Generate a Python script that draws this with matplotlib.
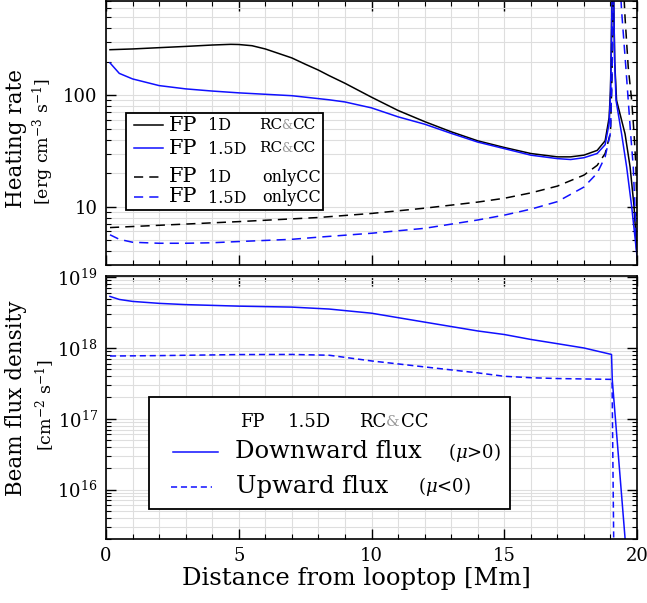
import numpy as np
import matplotlib
matplotlib.use('Agg')
import matplotlib.pyplot as plt
from matplotlib.lines import Line2D
from matplotlib.patches import Rectangle
from matplotlib.ticker import LogLocator, MultipleLocator, NullFormatter

plt.rcParams['font.family'] = ['DejaVu Serif']
plt.rcParams['mathtext.fontset'] = 'dejavuserif'

# ---- top panel: heating rate [erg cm^-3 s^-1] vs distance [Mm]
x_1d_rc = [0.15, 1, 2, 3, 4, 4.7, 5.0, 5.5, 6.0, 6.5, 7.0, 7.5, 8.0, 8.4, 9, 10, 11, 12, 13, 14, 15, 16, 17, 17.5,
           18, 18.5, 18.8, 18.95, 19.0, 19.03, 19.06, 19.09, 19.12, 19.16, 19.23, 19.55, 19.74, 19.89, 20.01]
y_1d_rc = [256, 260, 267, 274, 282, 286, 285, 278, 260, 237, 216, 190, 168, 150, 128, 96, 73, 58, 47, 39, 34, 30, 28, 28,
           29, 32, 39, 63, 110, 250, 800, 3000, 800, 200, 90, 45, 22.7, 10, 3.3]

x_15d_rc = [0.15, 0.5, 1, 2, 3, 4, 5, 7, 8.4, 9, 10, 11, 12, 13, 14, 16, 17, 17.5,
            18, 18.5, 18.8, 18.95, 19.0, 19.03, 19.06, 19.09, 19.12, 19.16, 19.21, 19.42, 19.61, 19.80, 20.0]
y_15d_rc = [195, 157, 140, 122, 114, 109, 105, 99, 91, 87, 77, 64, 55, 45.5, 38, 29, 27, 26.5,
            27.5, 30, 36, 56, 100, 230, 750, 3000, 800, 200, 90, 45, 22.7, 10, 3.6]

x_1d_cc = [0.15, 5, 8, 10, 12, 14, 15, 16, 17, 18, 18.5, 18.8, 19.0, 19.06, 19.12,
           19.3, 19.45, 19.55, 19.67, 19.80, 19.89, 19.96, 20.0]
y_1d_cc = [6.5, 7.35, 8.0, 8.7, 9.7, 11, 11.9, 13.3, 15.3, 19.2, 23.5, 30, 46, 150, 1500,
           4000, 1500, 497, 178, 90, 45, 22.7, 8.2]

x_15d_cc = [0.15, 0.5, 1, 2, 3, 4, 5, 7, 8, 10, 12, 14, 15, 16, 17, 18, 18.5, 18.8, 19.0, 19.06, 19.12,
            19.25, 19.42, 19.58, 19.67, 19.76, 19.86, 19.92, 20.0]
y_15d_cc = [5.6, 5.1, 4.8, 4.7, 4.7, 4.75, 4.87, 5.1, 5.33, 5.78, 6.4, 7.6, 8.4, 9.5, 11.1, 15, 20, 28, 46, 150, 1500,
            3000, 570, 178, 90, 45, 22.7, 10, 3.6]

# ---- bottom panel: beam flux density [cm^-2 s^-1]
x_down = [0.15, 0.5, 1, 2, 3, 5, 7, 8.4, 10, 12, 14, 15, 16, 17, 18, 19.04, 19.07, 19.6]
y_down = [5.35e18, 4.85e18, 4.55e18, 4.27e18, 4.1e18, 3.9e18, 3.78e18, 3.55e18, 3.1e18, 2.32e18,
          1.74e18, 1.55e18, 1.32e18, 1.15e18, 1.0e18, 8.1e17, 3.5e17, 1.2e15]

x_up = [0.15, 2, 5, 7, 8.4, 10, 12, 14, 15, 16, 17, 18, 19.06, 19.13]
y_up = [7.7e17, 7.8e17, 8.07e17, 8.1e17, 7.9e17, 6.56e17, 5.4e17, 4.45e17, 3.98e17, 3.8e17,
        3.7e17, 3.65e17, 3.6e17, 1e15]

BLUE = '#1010ff'
W, H = 647, 603


def fx(px):
    return px / W


def fy(py):
    return 1 - py / H


fig = plt.figure(figsize=(6.47, 6.03), dpi=100)
ax1 = fig.add_axes([fx(106), fy(265), fx(637) - fx(106), fy(1) - fy(265)])
ax2 = fig.add_axes([fx(106), fy(539), fx(637) - fx(106), fy(275.7) - fy(539)])

for ax in (ax1, ax2):
    ax.set_xlim(0, 20)
    ax.set_yscale('log')
    ax.xaxis.set_major_locator(MultipleLocator(5))
    ax.xaxis.set_minor_locator(MultipleLocator(1))
    ax.yaxis.set_minor_locator(LogLocator(base=10, subs=np.arange(2, 10)))
    ax.yaxis.set_minor_formatter(NullFormatter())
    ax.grid(which='both', color='#dedede', lw=0.8)
    ax.set_axisbelow(True)
    ax.tick_params(which='both', direction='in', top=True, right=True, labelsize=13)
    ax.tick_params(which='major', length=7, width=1, pad=6)
    ax.tick_params(which='minor', length=3.5, width=0.8)
    for s in ax.spines.values():
        s.set_linewidth(1.2)

# top panel
ax1.plot(x_1d_rc, y_1d_rc, color='black', lw=1.1)
ax1.plot(x_15d_rc, y_15d_rc, color=BLUE, lw=1.1)
ax1.plot(x_1d_cc, y_1d_cc, color='black', lw=1.1, dashes=(6, 4))
ax1.plot(x_15d_cc, y_15d_cc, color=BLUE, lw=1.1, dashes=(6, 4))
ax1.set_ylim(3, 700)
ax1.set_yticks([10, 100])
ax1.set_yticklabels(['10', '100'])
ax1.tick_params(labelbottom=False)

# bottom panel
ax2.plot(x_down, y_down, color=BLUE, lw=1.1)
ax2.plot(x_up, y_up, color=BLUE, lw=1.1, dashes=(4, 2.5))
ax2.set_ylim(2e15, 1.05e19)
ax2.set_xticks([0, 5, 10, 15, 20])

# axis labels
fig.text(fx(16), fy(138), 'Heating rate', rotation=90, ha='center', va='center', fontsize=15.5)
fig.text(fx(43), fy(142), r'[erg cm$^{-3}$ s$^{-1}$]', rotation=90, ha='center', va='center', fontsize=12.5)
fig.text(fx(16), fy(398), 'Beam flux density', rotation=90, ha='center', va='center', fontsize=15.5)
fig.text(fx(45), fy(405), r'[cm$^{-2}$ s$^{-1}$]', rotation=90, ha='center', va='center', fontsize=12.5)
fig.text(fx(356), fy(578), 'Distance from looptop [Mm]', ha='center', va='center', fontsize=17.5)


def box(x0, y0, x1, y1):
    fig.add_artist(Rectangle((fx(x0), fy(y1)), fx(x1) - fx(x0), fy(y0) - fy(y1),
                             transform=fig.transFigure, facecolor='white',
                             edgecolor='black', lw=1.3, zorder=5))


def handle(x0, x1, y, color, dashes=None):
    ln = Line2D([fx(x0), fx(x1)], [fy(y), fy(y)], transform=fig.transFigure,
                color=color, lw=1.1, zorder=6)
    if dashes:
        ln.set_dashes(dashes)
    fig.add_artist(ln)


def txt(x, y, s, size, color='black', ha='left'):
    fig.text(fx(x), fy(y), s, fontsize=size, color=color, ha=ha, va='center', zorder=7)


def rc_cc(x_rc_end, x_amp, x_cc, y, size):
    txt(x_rc_end, y, 'RC', size, ha='right')
    txt(x_amp, y, '&', size - 2, color='#999999', ha='center')
    txt(x_cc, y, 'CC', size)


# top legend
box(126, 113, 323, 210)
rows = [(125, 'black', None, '1D', 'rc'), (148, BLUE, None, '1.5D', 'rc'),
        (177, 'black', (6, 4), '1D', 'cc'), (197, BLUE, (6, 4), '1.5D', 'cc')]
for y, c, d, dim, kind in rows:
    handle(134, 163, y, c, d)
    txt(169, y, 'FP', 15)
    txt(208, y + 1, dim, 11.5)
    if kind == 'rc':
        rc_cc(282, 287, 292, y, 11)
    else:
        txt(262, y, 'onlyCC', 11.5)

# bottom legend
box(149, 397, 510, 509)
txt(240, 422, 'FP', 13)
txt(288, 422, '1.5D', 13)
rc_cc(386, 393, 401, 422, 13)
handle(173, 218, 452, BLUE)
txt(235, 452, 'Downward flux', 17.5)
txt(448, 452, r'($\mu$>0)', 13)
handle(171, 212, 487, BLUE, (4, 2.5))
txt(236, 487, 'Upward flux', 17.5)
txt(418, 487, r'($\mu$<0)', 13)

fig.savefig('out.png', dpi=100)
